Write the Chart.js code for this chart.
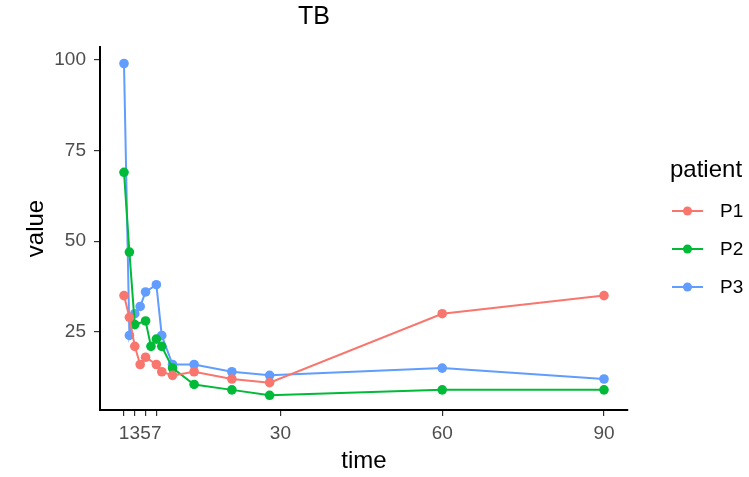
<!DOCTYPE html>
<html>
<head>
<meta charset="utf-8">
<script src="https://cdn.jsdelivr.net/npm/chart.js@4"></script>
<style>
  html, body { margin: 0; padding: 0; background: #fff; }
  #wrap { width: 749px; height: 477px; position: relative; }
</style>
</head>
<body>
<div id="wrap"><canvas id="chart"></canvas></div>
<script>
// values
const patients = ['P1', 'P2', 'P3'];
const colors = ['#F8766D', '#00BA38', '#619CFF'];

const timeP1 = [1, 2, 3, 4, 5, 7, 8, 10, 14, 21, 28, 60, 90];
const valueP1 = [35, 29, 21, 16, 18, 16, 14, 13, 14, 12, 11, 30, 35];

const timeP2 = [1, 2, 3, 5, 6, 7, 8, 10, 14, 21, 28, 60, 90];
const valueP2 = [69, 47, 27, 28, 21, 23, 21, 15, 10.5, 9, 7.5, 9, 9];

const timeP3 = [1, 2, 3, 4, 5, 7, 8, 10, 14, 21, 28, 60, 90];
const valueP3 = [99, 24, 30, 32, 36, 38, 24, 16, 16, 14, 13, 15, 12];

const xTicks = [1, 3, 5, 7, 30, 60, 90];
const yTicks = [25, 50, 75, 100];

const times = [timeP1, timeP2, timeP3];
const values = [valueP1, valueP2, valueP3];

const FONT = "'Liberation Sans', Arial, sans-serif";

const datasets = patients.map((p, i) => ({
    label: p,
    data: times[i].map((t, j) => ({ x: t, y: values[i][j] })),
    borderColor: colors[i],
    backgroundColor: colors[i],
    borderWidth: 2,
    pointRadius: 4.8,
    pointBorderWidth: 0,
    pointHoverRadius: 4.8,
    tension: 0
}));

// ggplot style legend on the right
const legendPlugin = {
    id: 'sideLegend',
    afterDraw(chart) {
        const ctx = chart.ctx;
        ctx.save();
        ctx.fillStyle = '#000';
        ctx.font = '24px ' + FONT;
        ctx.textBaseline = 'middle';
        ctx.textAlign = 'left';
        ctx.fillText('patient', 670, 170);
        const rows = [211, 249, 287];
        chart.data.datasets.forEach((ds, i) => {
            const y = rows[i];
            ctx.strokeStyle = ds.borderColor;
            ctx.lineWidth = 2;
            ctx.beginPath();
            ctx.moveTo(672, y);
            ctx.lineTo(703, y);
            ctx.stroke();
            ctx.fillStyle = ds.borderColor;
            ctx.beginPath();
            ctx.arc(687.5, y, 4.5, 0, Math.PI * 2);
            ctx.fill();
            ctx.fillStyle = '#000';
            ctx.font = '19px ' + FONT;
            ctx.fillText(ds.label, 720, y + 1);
        });
        ctx.restore();
    }
};

new Chart(document.getElementById('chart'), {
    type: 'line',
    data: { datasets: datasets },
    options: {
        responsive: true,
        maintainAspectRatio: false,
        animation: false,
        layout: { padding: { left: 0, right: 121, top: 0, bottom: 0 } },
        plugins: {
            legend: { display: false },
            tooltip: { enabled: false },
            title: {
                display: true,
                text: 'TB',
                color: '#000',
                font: { family: FONT, size: 25, weight: 'normal' },
                padding: { top: 2, bottom: 15 }
            }
        },
        scales: {
            x: {
                type: 'linear',
                min: -3.45,
                max: 94.45,
                afterBuildTicks: (scale) => { scale.ticks = xTicks.map(v => ({ value: v })); },
                afterFit: (scale) => { scale.height = 67; },
                ticks: {
                    autoSkip: false,
                    maxRotation: 0,
                    color: '#4d4d4d',
                    padding: 6,
                    font: { family: FONT, size: 19 }
                },
                grid: { drawOnChartArea: false, drawTicks: true, tickLength: 6, color: '#333', lineWidth: 1.2 },
                border: { display: true, color: '#000', width: 2 },
                title: {
                    display: true,
                    text: 'time',
                    color: '#000',
                    font: { family: FONT, size: 24 },
                    padding: { top: 0, bottom: 1 }
                }
            },
            y: {
                type: 'linear',
                min: 3.45,
                max: 103.55,
                afterBuildTicks: (scale) => { scale.ticks = yTicks.map(v => ({ value: v })); },
                afterFit: (scale) => { scale.width = 100; },
                ticks: {
                    color: '#4d4d4d',
                    padding: 8,
                    font: { family: FONT, size: 19 }
                },
                grid: { drawOnChartArea: false, drawTicks: true, tickLength: 6, color: '#333', lineWidth: 1.2 },
                border: { display: true, color: '#000', width: 2 },
                title: {
                    display: true,
                    text: 'value',
                    color: '#000',
                    font: { family: FONT, size: 24 },
                    padding: { top: 22, bottom: 0 }
                }
            }
        }
    },
    plugins: [legendPlugin]
});
</script>
</body>
</html>
